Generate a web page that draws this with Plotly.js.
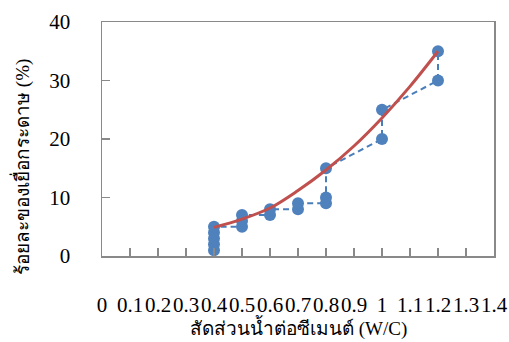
<!DOCTYPE html>
<html>
<head>
<meta charset="utf-8">
<script src="https://cdn.plot.ly/plotly-3.0.1.min.js"></script>
<style>html,body{margin:0;padding:0;background:#fff;}#chart{width:509px;height:342px;}</style>
</head>
<body>
<div id="chart"></div>
<script>
// Measured data (W/C ratio vs. % pulp), in the order the dashed line joins them
const wcRatio = [0.4,0.4,0.4,0.4,0.4,0.5,0.5,0.5,0.6,0.6,0.7,0.7,0.8,0.8,0.8,1.0,1.0,1.2,1.2];
const pulpPercent = [1,2,3,4,5,5,6,7,7,8,8,9,9,10,15,20,25,30,35];
// Trend line
const trendX = [0.4,0.5,0.6,0.7,0.8,0.9,1.0,1.1,1.2];
const trendY = [4.9,6.3,8.2,11.2,14.7,18.8,23.6,29.0,35.0];
// Axis ticks
const xTickVals = [0,0.1,0.2,0.3,0.4,0.5,0.6,0.7,0.8,0.9,1,1.1,1.2,1.3,1.4];
const xTickText = ['0','0.1','0.2','0.3','0.4','0.5','0.6','0.7','0.8','0.9','1','1.1','1.2','1.3','1.4'];
const yTickVals = [0,10,20,30,40];
const yTickText = ['0','10','20','30','40'];
const xTitle = 'สัดส่วนน้ำต่อซีเมนต์ (W/C)';
const yTitle = 'ร้อยละของเยื่อกระดาษ (%)';

const FONT = 'Liberation Serif, Times New Roman, serif';
const AX = '#898989';

const traces = [
  {
    x: wcRatio, y: pulpPercent, type: 'scatter', mode: 'lines+markers',
    line: {color: '#4A7EBB', width: 2, dash: '6px,4px'},
    marker: {color: '#4F81BD', size: 12},
    hoverinfo: 'none', showlegend: false
  },
  {
    x: trendX, y: trendY, type: 'scatter', mode: 'lines',
    line: {color: '#C0504D', width: 3, shape: 'spline'},
    hoverinfo: 'none', showlegend: false
  }
];

const layout = {
  width: 509, height: 342,
  margin: {l: 102, r: 15, t: 21.5, b: 85.5},
  paper_bgcolor: '#fff', plot_bgcolor: '#fff',
  font: {family: FONT, size: 21, color: '#000'},
  showlegend: false,
  xaxis: {
    range: [0, 1.4], tickmode: 'array', tickvals: xTickVals, ticktext: xTickText,
    tickangle: 0,
    ticks: 'inside', ticklen: 8, tickwidth: 1.5, tickcolor: AX,
    showline: true, linecolor: AX, linewidth: 1.5, mirror: true,
    showgrid: false, zeroline: false, ticklabelstandoff: 29,
    tickfont: {family: FONT, size: 21, color: '#000'}
  },
  yaxis: {
    range: [0, 40], tickmode: 'array', tickvals: yTickVals, ticktext: yTickText,
    ticks: 'inside', ticklen: 8, tickwidth: 1.5, tickcolor: AX,
    showline: true, linecolor: AX, linewidth: 1.5, mirror: true,
    showgrid: false, zeroline: false, ticklabelstandoff: 26,
    tickfont: {family: FONT, size: 21, color: '#000'}
  },
  annotations: [
    {text: xTitle, xref: 'paper', yref: 'paper', x: 0.5, y: -0.304,
     xanchor: 'center', yanchor: 'middle', showarrow: false,
     font: {family: FONT, size: 19, color: '#000'}},
    {text: yTitle, xref: 'paper', yref: 'paper', x: -0.204, y: 0.381,
     xanchor: 'center', yanchor: 'middle', showarrow: false, textangle: -90,
     font: {family: FONT, size: 19, color: '#000'}}
  ]
};

Plotly.newPlot('chart', traces, layout, {staticPlot: true, displayModeBar: false});
</script>
</body>
</html>
